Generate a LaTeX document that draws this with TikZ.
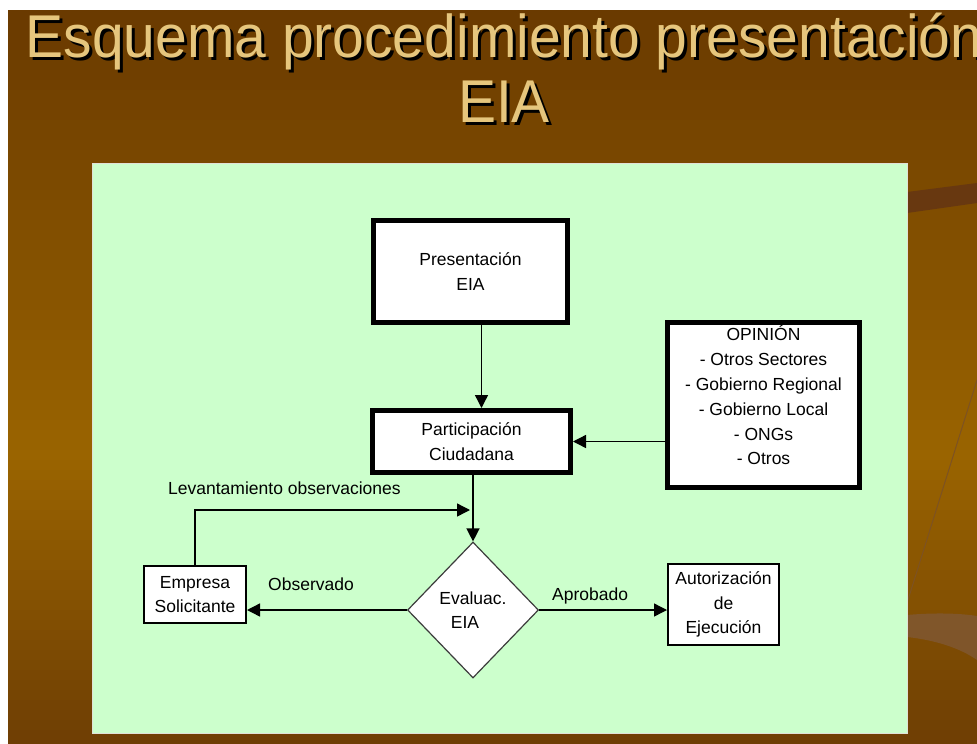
\documentclass[tikz,border=0pt]{standalone}
\usepackage{fontspec}
\setmainfont{Liberation Sans}
\usetikzlibrary{arrows.meta,shapes.geometric,calc}
\definecolor{panel}{RGB}{204,255,204}
\definecolor{paneledge}{RGB}{225,225,215}
\definecolor{titlecol}{RGB}{230,198,125}
\definecolor{bgtop}{RGB}{106,58,0}
\definecolor{bgmid}{RGB}{154,100,0}
\definecolor{bgbot}{RGB}{110,62,4}
\definecolor{band}{RGB}{104,56,16}
\definecolor{streak}{RGB}{125,82,35}
\definecolor{swoosh}{RGB}{128,88,52}
\definecolor{edge}{RGB}{60,60,60}
\begin{document}
\begin{tikzpicture}[x=1pt,y=-1pt,
  arr/.style={line width=1.4pt, draw=black, -{Triangle[length=13pt,width=13pt]}},
  txt/.style={inner sep=0pt, align=center, font=\fontsize{17.5}{24.5}\selectfont},
  thickbox/.style={txt, draw=black, line width=5pt, fill=white},
  thinbox/.style={txt, draw=black, line width=2pt, fill=white},
  lbl/.style={inner sep=0pt, anchor=base west, font=\fontsize{17.5}{24.5}\selectfont},
  ttl/.style={inner sep=0pt, anchor=base, font=\fontsize{57}{65}\selectfont}
]
\useasboundingbox (0,0) rectangle (977,744);
\fill[white] (0,0) rectangle (977,744);
% brown background gradient (strips)
\foreach \i in {0,...,73}{
  \pgfmathsetmacro{\yy}{10+\i*10}
  \pgfmathsetmacro{\yb}{\yy+10.6}
  \ifnum\i<44
    \pgfmathtruncatemacro{\p}{\i*100/44}
    \fill[bgmid!\p!bgtop] (8,\yy) rectangle (977,\yb);
  \else
    \pgfmathtruncatemacro{\p}{(\i-44)*100/29}
    \fill[bgbot!\p!bgmid] (8,\yy) rectangle (977,\yb);
  \fi
}
% background decorations (right side)
\fill[band] (907,192) -- (977,183) -- (977,203) -- (907,213) -- cycle;
\draw[streak, line width=1pt] (977,380) -- (907,603);
\fill[swoosh, opacity=0.8] (907,615) .. controls (940,612) and (965,614) .. (977,616) -- (977,660) .. controls (960,648) and (935,640) .. (907,637) -- cycle;
% green panel
\fill[panel] (92,163) rectangle (907,733);
\draw[paneledge, line width=1pt] (92,163) rectangle (907,733);
% title with shadow
\node[ttl, text=black] (t1s) at (507,60) {\scalebox{1}[1.06]{Esquema procedimiento presentación}};
\node[ttl, text=titlecol] (t1) at (504,57) {\scalebox{1}[1.06]{Esquema procedimiento presentación}};
\node[ttl, text=black] (t2s) at (507,125) {\scalebox{1}[1.06]{EIA}};
\node[ttl, text=titlecol] (t2) at (504,122) {\scalebox{1}[1.06]{EIA}};
% nodes
\node[thickbox, minimum width=194pt, minimum height=102pt] (pres) at (470.5,271.5) {Presentación\\EIA};
\node[thickbox, minimum width=198pt, minimum height=62pt] (part) at (471.5,441.5) {Participación\\Ciudadana};
\node[thickbox, line width=4.5pt, minimum width=192pt, minimum height=165pt] (op) at (763.5,405) {};
\node[txt, anchor=north, font=\fontsize{17.5}{24.8}\selectfont] (opt) at (763.5,325.5) {OPINIÓN\\- Otros Sectores\\- Gobierno Regional\\- Gobierno Local\\- ONGs\\- Otros};
\node[thinbox, minimum width=102pt, minimum height=57pt] (emp) at (195,594.5) {Empresa\\Solicitante};
\node[thinbox, minimum width=111pt, minimum height=81pt] (aut) at (723.5,604.5) {Autorización\\de\\Ejecución};
\node[txt, diamond, draw=edge, line width=1.2pt, fill=white, minimum width=131pt, minimum height=136pt] (dia) at (473,610) {Evaluac.\\EIA\hspace*{16pt}};
% connectors
\draw[arr] ([xshift=11pt]pres.south) -- ([xshift=11pt]pres.south |- part.north);
\draw[arr] (part.east -| op.west) -- (part.east);
\draw[arr] (dia.north |- part.south) -- (dia.north);
\coordinate (lv) at (470,510);
\draw[arr] (emp.north) |- (lv);
\draw[arr] (dia.west) -- (dia.west -| emp.east);
\draw[arr] (dia.east) -- (dia.east -| aut.west);
% labels
\node[lbl] (llev) at (168,494) {Levantamiento observaciones};
\node[lbl] (lobs) at (268,590) {Observado};
\node[lbl] (lapr) at (552,600) {Aprobado};
\end{tikzpicture}
\end{document}
